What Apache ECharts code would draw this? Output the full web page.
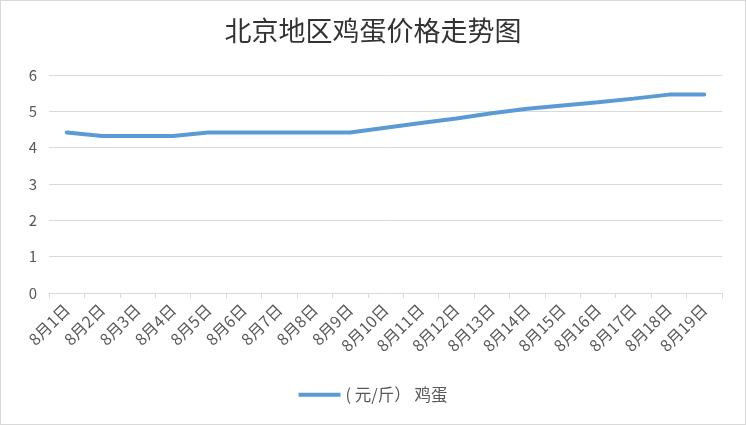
<!DOCTYPE html>
<html lang="zh">
<head>
    <meta charset="UTF-8">
    <title>北京地区鸡蛋价格走势图</title>
    <script src="https://cdn.jsdelivr.net/npm/echarts@6/dist/echarts.min.js"></script>
    <style>
        html, body { margin: 0; padding: 0; background: #fff; }
        #main { width: 744px; height: 423px; border: 1px solid #d9d9d9; }
    </style>
</head>
<body>
<div id="main"></div>
<script type="text/javascript">
    // 日期（横轴）
    var dates = ['8月1日', '8月2日', '8月3日', '8月4日', '8月5日', '8月6日', '8月7日', '8月8日', '8月9日', '8月10日',
        '8月11日', '8月12日', '8月13日', '8月14日', '8月15日', '8月16日', '8月17日', '8月18日', '8月19日'];
    // 鸡蛋价格 (元/斤)
    var eggPrice = [4.42, 4.32, 4.32, 4.32, 4.42, 4.42, 4.42, 4.42, 4.42, 4.55,
        4.68, 4.8, 4.95, 5.07, 5.16, 5.25, 5.35, 5.46, 5.46];
    var seriesName = '( 元/斤） 鸡蛋';

    var myChart = echarts.init(document.getElementById('main'));
    var font = '"Noto Sans CJK SC", "Noto Sans", sans-serif';
    var option = {
        animation: false,
        title: {
            text: '北京地区鸡蛋价格走势图',
            left: 'center',
            top: 11,
            textStyle: {fontFamily: font, fontSize: 27, fontWeight: 'normal', color: '#333'}
        },
        legend: {
            bottom: 16,
            left: 'center',
            itemWidth: 42,
            itemHeight: 4,
            itemGap: 6,
            icon: 'rect',
            textStyle: {fontFamily: font, fontSize: 16.5, color: '#595959'},
            data: [seriesName]
        },
        grid: {left: 48, right: 23, top: 74, bottom: 131},
        xAxis: {
            type: 'category',
            data: dates,
            boundaryGap: true,
            axisLine: {lineStyle: {color: '#d9d9d9'}},
            axisTick: {show: true, length: 5, lineStyle: {color: '#d9d9d9'}},
            axisLabel: {rotate: 45, interval: 0, margin: 14, fontFamily: font, fontSize: 16, color: '#595959'}
        },
        yAxis: {
            type: 'value',
            min: 0,
            max: 6,
            interval: 1,
            axisLine: {show: false},
            axisTick: {show: false},
            splitLine: {lineStyle: {color: '#d9d9d9'}},
            axisLabel: {margin: 12, fontFamily: font, fontSize: 15, color: '#595959'}
        },
        series: [{
            name: seriesName,
            type: 'line',
            data: eggPrice,
            showSymbol: false,
            symbol: 'none',
            lineStyle: {color: '#5b9bd5', width: 4, cap: 'round'},
            itemStyle: {color: '#5b9bd5'}
        }]
    };
    myChart.setOption(option);
</script>
</body>
</html>
